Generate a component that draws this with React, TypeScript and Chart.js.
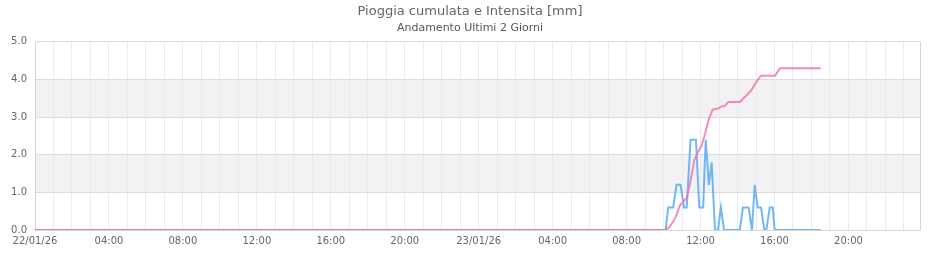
import React, { useEffect, useRef } from "react";
import { Chart, registerables } from "chart.js";

Chart.register(...registerables);

// Hours counted from 22/01/26 00:00
const intensityTimes = [0, 34.11, 34.25, 34.52, 34.7, 34.92, 35.1, 35.25, 35.46, 35.75, 35.93, 36.14, 36.28, 36.45, 36.6, 36.78, 36.94, 37.1, 37.27, 38.12, 38.29, 38.6, 38.78, 38.93, 39.09, 39.27, 39.45, 39.56, 39.74, 39.9, 40.01, 42.5];
const intensityValues = [0, 0, 0.6, 0.6, 1.2, 1.2, 0.6, 0.6, 2.4, 2.4, 0.6, 0.6, 2.4, 1.2, 1.8, 0, 0, 0.6, 0, 0, 0.6, 0.6, 0, 1.2, 0.6, 0.6, 0, 0, 0.6, 0.6, 0, 0];

const cumulativeTimes = [0, 34.13, 34.34, 34.56, 34.7, 34.88, 35.06, 35.25, 35.42, 35.66, 35.84, 36.06, 36.24, 36.42, 36.65, 36.9, 37.14, 37.32, 37.5, 38.13, 38.53, 38.77, 39.04, 39.27, 40.03, 40.3, 42.5];
const cumulativeValues = [0, 0, 0.1, 0.25, 0.4, 0.65, 0.75, 0.85, 1.2, 1.85, 2.05, 2.25, 2.55, 2.9, 3.2, 3.22, 3.28, 3.3, 3.4, 3.4, 3.6, 3.73, 3.95, 4.1, 4.1, 4.3, 4.3];

const xTickLabels = ["22/01/26", "04:00", "08:00", "12:00", "16:00", "20:00", "23/01/26", "04:00", "08:00", "12:00", "16:00", "20:00"];
const yTicks = [0, 1, 2, 3, 4, 5];

const titleText = "Pioggia cumulata e Intensita [mm]";
const subtitleText = "Andamento Ultimi 2 Giorni";

const FONT = "'DejaVu Sans', sans-serif";

const bandsPlugin = {
  id: "bands",
  beforeDraw(chart: any) {
    const { ctx, chartArea, scales } = chart;
    const y = scales.y;
    ctx.save();
    ctx.fillStyle = "#f2f2f2";
    [[1, 2], [3, 4]].forEach(([a, b]) => {
      const top = y.getPixelForValue(b);
      const bot = y.getPixelForValue(a);
      ctx.fillRect(chartArea.left, top, chartArea.right - chartArea.left, bot - top);
    });
    ctx.restore();
  },
  beforeDatasetsDraw(chart: any) {
    const { ctx, chartArea } = chart;
    ctx.save();
    ctx.strokeStyle = "#d6d6d6";
    ctx.lineWidth = 1;
    ctx.beginPath();
    ctx.moveTo(Math.round(chartArea.right) + 0.5, chartArea.top);
    ctx.lineTo(Math.round(chartArea.right) + 0.5, chartArea.bottom);
    ctx.stroke();
    ctx.restore();
  },
};

export default function App() {
  const ref = useRef<HTMLCanvasElement>(null);
  useEffect(() => {
    document.body.style.margin = "0";
    const canvas = ref.current!;
    const chart = new Chart(canvas, {
      type: "line",
      data: {
        datasets: [
          {
            label: "Cumulata",
            data: cumulativeTimes.map((t, i) => ({ x: t, y: cumulativeValues[i] })),
            borderColor: "rgba(240,120,180,0.85)",
            backgroundColor: "rgba(240,120,180,0.85)",
            borderWidth: 2,
            pointRadius: 0,
            tension: 0,
          },
          {
            label: "Intensita",
            data: intensityTimes.map((t, i) => ({ x: t, y: intensityValues[i] })),
            borderColor: "rgba(80,165,240,0.8)",
            backgroundColor: "rgba(80,165,240,0.8)",
            borderWidth: 2,
            pointRadius: 0,
            tension: 0,
          },
        ],
      },
      options: {
        responsive: false,
        animation: false,
        layout: { padding: { left: 0, right: 0, top: 0, bottom: 0 } },
        plugins: {
          legend: { display: false },
          tooltip: { enabled: false },
          title: {
            display: true,
            text: titleText,
            color: "#666",
            font: { family: FONT, size: 13, weight: "normal" },
            padding: { top: 4, bottom: 0 },
          },
          subtitle: {
            display: true,
            text: subtitleText,
            color: "#555",
            font: { family: FONT, size: 11, weight: "normal" },
            padding: { top: 2, bottom: 7 },
          },
        },
        scales: {
          x: {
            type: "linear",
            min: 0,
            max: 47.87,
            afterBuildTicks: (scale: any) => {
              scale.ticks = Array.from({ length: 48 }, (_, i) => ({ value: i }));
            },
            afterFit: (scale: any) => {
              scale.height = 30;
              scale.paddingLeft = 0;
              scale.paddingRight = 20;
            },
            grid: { color: "#ebe8fa", drawTicks: false },
            border: { color: "#d6d6d6" },
            ticks: {
              autoSkip: false,
              maxRotation: 0,
              padding: 5,
              color: "#666",
              font: { family: FONT, size: 10 },
              callback: (v: any) => (Number(v) % 4 === 0 ? xTickLabels[Number(v) / 4] : ""),
            },
          },
          y: {
            min: 0,
            max: 5,
            afterBuildTicks: (scale: any) => {
              scale.ticks = yTicks.map((v) => ({ value: v }));
            },
            afterFit: (scale: any) => {
              scale.width = 35;
            },
            grid: { color: "#dcdcdc", drawTicks: false },
            border: { color: "#d6d6d6" },
            ticks: {
              padding: 8,
              color: "#666",
              font: { family: FONT, size: 10 },
              callback: (v: any) => Number(v).toFixed(1),
            },
          },
        },
      },
      plugins: [bandsPlugin],
    } as any);
    return () => chart.destroy();
  }, []);
  return <canvas ref={ref} width={940} height={260} style={{ display: "block" }} />;
}
